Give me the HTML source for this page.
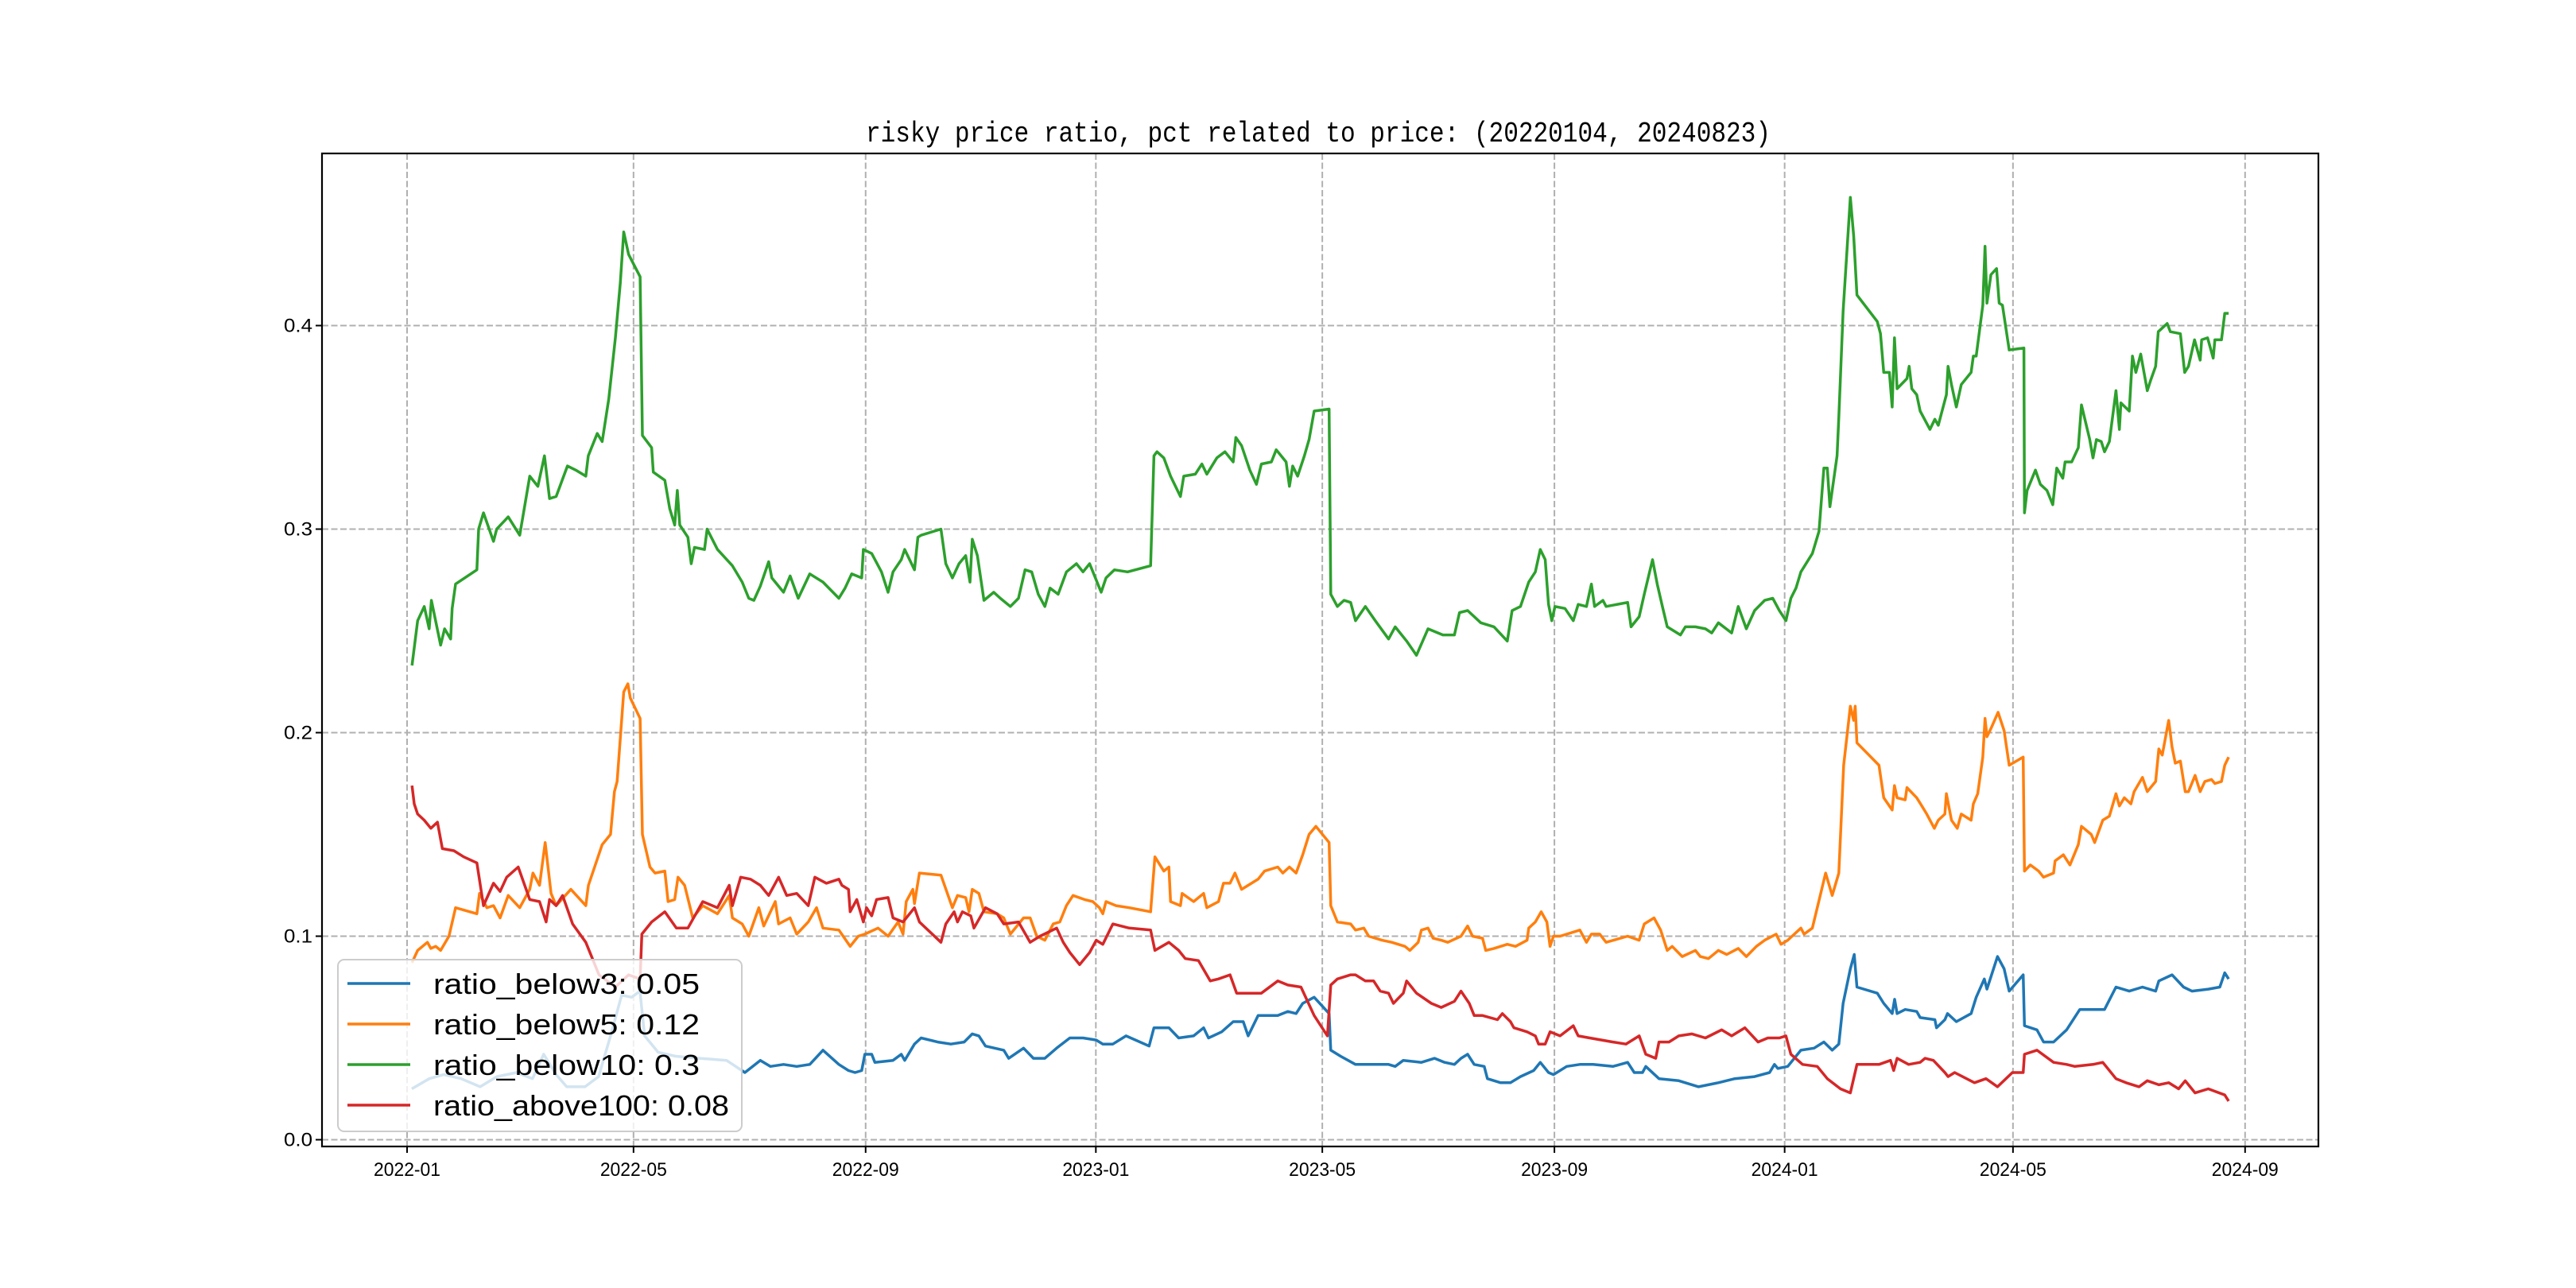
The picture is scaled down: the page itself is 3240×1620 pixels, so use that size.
<!DOCTYPE html>
<html><head><meta charset="utf-8"><style>html,body{margin:0;padding:0;background:#fff}svg{display:block}</style></head>
<body>
<svg id="chart" width="3240" height="1620" viewBox="0 0 3240 1620" xmlns="http://www.w3.org/2000/svg" font-family="'Liberation Sans','Noto Sans CJK SC',sans-serif">
<rect width="3240" height="1620" fill="#fff"/>
<g id="grid"></g>
<g id="series"></g>
<rect x="405" y="193" width="2511" height="1249" fill="none" stroke="#000" stroke-width="2.2"/>
<g id="ticks"></g>
<text x="1658" y="178" text-anchor="middle" font-size="36" textLength="1138" lengthAdjust="spacingAndGlyphs" font-family="'Liberation Mono',monospace">risky price ratio, pct related to price: (20220104, 20240823)</text>
<g id="legend"></g>
</svg>
<script>
const yTicks=[0.0,0.1,0.2,0.3,0.4];
const yTickLabels=["0.0","0.1","0.2","0.3","0.4"];
const xTickDays=[0,120,243,365,485,608,730,851,974];
const xTickLabels=["2022-01","2022-05","2022-09","2023-01","2023-05","2023-09","2024-01","2024-05","2024-09"];
const seriesNames=["ratio_below3: 0.05","ratio_below5: 0.12","ratio_below10: 0.3","ratio_above100: 0.08"];
const seriesColors=["#1f77b4","#ff7f0e","#2ca02c","#d62728"];
// days since 2022-01-01
const below3Days=[2.5,11.8,19.4,28.6,38.7,47.6,58,66.5,72.4,79,84.6,94.3,101.5,107.8,113.7,119,123.4,125.9,133,142.3,155,169.3,179,187.2,192.5,199.5,206.5,213.4,220.4,228.8,233.9,237.4,240.9,242.6,246.2,247.9,257.5,261.9,263.7,268.9,272.4,281.2,288.2,295.2,299.5,303,306.5,316.2,318.8,326.7,331.9,338,344.2,351.2,358.2,365.2,368.7,374,381,393.2,395.8,403.7,408.9,416.8,422.1,424.7,431.7,437.8,443.1,445.7,451,461.4,466.7,471.1,474.6,480.7,488.6,489.5,494.7,502.6,513.1,520.1,523.6,527.9,537.5,544.5,549.8,555,558.5,562,565.5,570.8,572.5,579.5,584.7,590,597,600.5,604.9,607.5,614.5,621.5,628.5,639,646.8,650.3,654.7,656.4,663.4,673.9,684.4,694.9,703.6,714.1,722,724.6,726.4,731.6,738.6,745.6,750.8,755.2,758.7,761,764.8,766.9,768.3,779.1,782.5,787,788.3,789.6,793.9,800,801.8,809.6,810.5,814.9,816.3,821,828.8,831.5,835.8,837.2,842.8,846.3,849,856.4,857.1,863.7,867.2,872.5,879.4,886.4,893.4,899.5,905.6,912.6,919.6,926.6,928.3,935.3,941.4,945.8,954.5,960.6,963.2,965.3];
const below3Vals=[0.025,0.030,0.032,0.030,0.026,0.031,0.033,0.030,0.042,0.032,0.026,0.026,0.031,0.051,0.071,0.070,0.073,0.051,0.043,0.041,0.040,0.039,0.033,0.039,0.036,0.037,0.036,0.037,0.044,0.037,0.034,0.033,0.034,0.042,0.042,0.038,0.039,0.042,0.039,0.047,0.050,0.048,0.047,0.048,0.052,0.051,0.046,0.044,0.040,0.045,0.040,0.040,0.045,0.050,0.050,0.049,0.047,0.047,0.051,0.046,0.055,0.055,0.050,0.051,0.055,0.050,0.053,0.058,0.058,0.051,0.061,0.061,0.063,0.062,0.067,0.070,0.062,0.044,0.041,0.037,0.037,0.037,0.036,0.039,0.038,0.040,0.038,0.037,0.040,0.042,0.037,0.036,0.030,0.028,0.028,0.031,0.034,0.038,0.033,0.032,0.036,0.037,0.037,0.036,0.038,0.033,0.033,0.036,0.030,0.029,0.026,0.028,0.030,0.031,0.033,0.037,0.035,0.036,0.044,0.045,0.048,0.044,0.047,0.067,0.084,0.091,0.075,0.072,0.067,0.062,0.069,0.062,0.064,0.063,0.060,0.059,0.055,0.059,0.062,0.058,0.062,0.070,0.079,0.074,0.090,0.084,0.073,0.081,0.056,0.054,0.048,0.048,0.054,0.064,0.064,0.064,0.075,0.073,0.075,0.073,0.078,0.081,0.075,0.073,0.074,0.075,0.082,0.079];
const below5Days=[2.6,5.6,10.8,12.6,15.2,17.8,22.2,25.7,37,38.4,42.3,45.8,49.3,53.6,59.7,65,66.7,70.2,73.2,76.3,79,86.8,94.7,96.1,103.4,107.8,109.9,111.3,114.8,117,118.3,123.5,124.7,128.7,131.4,136.6,138.3,141.8,143.6,147.1,151.4,156.7,164.5,170.7,172.4,177.6,181.1,186.4,189,195.1,196.9,203,206.5,212.6,217,220.4,228.8,234.8,239.1,242.6,249.6,254.9,260.2,262.8,264.5,268,268.9,271.5,282.9,289,291.7,296,297.8,299.5,303,305.7,312.7,316.2,319.7,326.7,330.2,333.7,338,342.4,345.9,349.4,352.9,359,363.4,366.9,368.7,370.4,375.7,382.7,394,396.3,401,403.7,404.6,409.8,410.7,416.8,422.1,423.8,430,432.6,436.1,438.7,442.2,445.7,451,454.4,461.4,464.1,467.6,471.1,474.6,478,481.6,488.6,489.5,493,500,502.6,507,509.6,516.6,521.8,528.8,531.4,535.8,537.5,541,543.7,548,551.5,558.5,562,564.6,569.9,571.6,576,583,587.4,593.5,594.4,597.9,601,604,605.7,607.5,611,621.5,625,627.6,632,635.4,646.8,652.9,655.6,660.8,664.3,667.8,670.4,675.7,682.7,685.3,689.6,694.9,699.3,705.4,709.7,715,719.4,725.5,728.1,731.6,738.6,740.3,744.7,747.3,751.7,755.2,758.7,761.3,764.8,766.6,767.4,768.3,780,782.5,787,788.2,789.6,793.9,794.8,800,802.7,805.3,809.3,811.4,814.9,815.7,818.4,821.5,823.6,828.8,830,832.3,835,836.2,837.2,839.3,843.1,846.3,849,856.4,857.1,860.2,864.6,867.2,872.5,873.3,877.7,881.2,885.6,887.3,892.5,894.3,898.6,902.1,905.6,907.4,910,913.5,915.2,919.6,922.2,926.6,928.3,930.1,933.5,935.3,937,939.7,942.3,944,947.5,950.2,952.7,956.2,958,961.5,963.2,965.3];
const below5Vals=[0.087,0.093,0.097,0.094,0.095,0.093,0.100,0.114,0.111,0.121,0.114,0.115,0.109,0.120,0.114,0.123,0.131,0.125,0.146,0.121,0.115,0.123,0.115,0.125,0.145,0.150,0.171,0.176,0.220,0.224,0.217,0.207,0.150,0.134,0.131,0.132,0.117,0.118,0.129,0.125,0.109,0.115,0.111,0.120,0.109,0.106,0.100,0.114,0.105,0.117,0.106,0.109,0.101,0.107,0.114,0.104,0.103,0.095,0.100,0.101,0.104,0.100,0.107,0.101,0.117,0.123,0.116,0.131,0.130,0.114,0.120,0.119,0.112,0.123,0.121,0.112,0.111,0.109,0.101,0.109,0.109,0.100,0.098,0.106,0.107,0.115,0.120,0.118,0.117,0.114,0.111,0.117,0.115,0.114,0.112,0.139,0.132,0.134,0.117,0.115,0.121,0.117,0.121,0.114,0.117,0.126,0.126,0.131,0.123,0.125,0.128,0.132,0.134,0.131,0.134,0.131,0.140,0.150,0.154,0.146,0.115,0.107,0.106,0.103,0.104,0.100,0.098,0.097,0.095,0.093,0.097,0.103,0.104,0.099,0.098,0.097,0.100,0.105,0.100,0.099,0.093,0.094,0.096,0.095,0.098,0.104,0.107,0.112,0.107,0.095,0.100,0.100,0.103,0.097,0.101,0.101,0.097,0.100,0.098,0.106,0.109,0.103,0.093,0.095,0.090,0.093,0.090,0.089,0.093,0.091,0.094,0.090,0.095,0.098,0.101,0.096,0.098,0.104,0.101,0.104,0.114,0.131,0.120,0.131,0.184,0.213,0.206,0.213,0.195,0.184,0.168,0.162,0.174,0.168,0.167,0.173,0.168,0.164,0.160,0.153,0.157,0.160,0.170,0.157,0.153,0.160,0.157,0.165,0.170,0.188,0.207,0.198,0.202,0.210,0.201,0.184,0.188,0.132,0.135,0.132,0.129,0.131,0.137,0.140,0.135,0.145,0.154,0.150,0.146,0.157,0.159,0.170,0.164,0.168,0.165,0.171,0.178,0.171,0.176,0.192,0.189,0.206,0.193,0.185,0.186,0.171,0.171,0.179,0.171,0.176,0.177,0.175,0.176,0.184,0.188];
const below10Days=[2.6,5.6,9.1,11.7,12.9,17.8,19.9,23.1,23.9,25.7,37,37.9,40.5,45.8,47.5,53.6,59.7,65,69.3,72.8,75.5,79,85,89.4,94.7,96,100.8,103.4,106.9,110.4,113,114.8,117.4,123.5,124.7,129.6,130.5,136.6,139.2,141.8,143.2,144.5,148.8,150.6,152.3,157.6,159,164.5,172.4,177.6,181.1,183.8,187.2,191.6,193.3,199.5,203,207.3,213.4,220.4,228.8,232.1,235.6,240.9,241.8,246.2,251.4,254.9,257.5,261.9,263.7,268.9,270.7,272.4,282.9,285.5,289,292.5,296,298.3,299.5,302.2,305.7,310.9,314.4,319.7,324,327.5,331,334.5,338,340.7,345,349.4,354.7,358.2,361.7,367.8,370.4,374.8,381.8,394,395.8,397.4,401,404.6,409.8,411.6,417.7,421.2,423.8,429.1,433.4,437.8,439.2,442.2,446.6,450.1,452.7,458,460.6,465.8,467.6,469.3,471.9,475.5,478,480.7,488.6,489.5,493,496.5,500,502.6,507.8,513.1,520.1,523.6,529.7,534.9,541,548.9,555,557.7,562,569,576,583,585.6,590,594.4,597.9,600.5,603.1,604.9,606.6,608.3,613.6,618,620.6,625,627.6,629.3,633.7,635.4,646.8,648.6,652.9,655.6,660,662.5,665.2,667.8,674.8,677.4,682.7,688,691.4,694.9,701.9,705.4,709.7,714.1,719.4,723.7,727.2,730.7,733.3,736,738.6,744.7,748.2,750.8,752.6,754,757.8,758.7,761,764.8,766.6,768.3,779.1,780.8,782.5,785.5,787,788.2,789.6,794.8,796,797.4,800,801.8,807,809.6,811.4,815.7,816.6,818.4,821,823.6,828.8,830,831.5,835,836.2,837.2,839.3,842.3,843.7,845.4,849,856.8,857.1,858.5,862.9,865.5,869,872.1,874.2,877.4,878.6,882.1,885.6,887.3,891.7,893.4,895.2,897.8,899.5,902.1,905.6,907.4,908.2,912.6,914.3,916.1,918.7,922.2,923.9,926.6,928,932.7,934.4,939.7,942,944,947.2,950.2,951,954.1,957.1,958,961.5,963.2,965.3];
const below10Vals=[0.233,0.255,0.262,0.251,0.265,0.243,0.251,0.246,0.261,0.273,0.280,0.300,0.308,0.294,0.300,0.306,0.297,0.326,0.321,0.336,0.315,0.316,0.331,0.329,0.326,0.336,0.347,0.343,0.364,0.394,0.421,0.446,0.435,0.424,0.346,0.340,0.328,0.324,0.310,0.302,0.319,0.302,0.296,0.283,0.291,0.290,0.300,0.290,0.282,0.274,0.266,0.265,0.272,0.284,0.276,0.269,0.277,0.266,0.278,0.274,0.266,0.271,0.278,0.276,0.290,0.288,0.279,0.269,0.279,0.285,0.290,0.280,0.296,0.297,0.300,0.283,0.276,0.283,0.287,0.274,0.295,0.287,0.265,0.269,0.266,0.262,0.266,0.280,0.279,0.268,0.262,0.271,0.268,0.279,0.283,0.279,0.283,0.269,0.276,0.280,0.279,0.282,0.336,0.338,0.335,0.326,0.316,0.326,0.327,0.332,0.327,0.335,0.338,0.333,0.345,0.341,0.329,0.322,0.332,0.333,0.339,0.333,0.321,0.331,0.326,0.336,0.344,0.358,0.359,0.268,0.262,0.265,0.264,0.255,0.262,0.255,0.246,0.252,0.245,0.238,0.251,0.248,0.248,0.259,0.260,0.254,0.252,0.245,0.260,0.262,0.274,0.279,0.290,0.285,0.263,0.255,0.262,0.261,0.255,0.263,0.262,0.273,0.262,0.265,0.262,0.264,0.252,0.257,0.268,0.285,0.273,0.262,0.252,0.248,0.252,0.252,0.251,0.249,0.254,0.249,0.262,0.251,0.260,0.265,0.266,0.260,0.255,0.266,0.271,0.279,0.288,0.299,0.330,0.330,0.311,0.336,0.355,0.407,0.463,0.444,0.415,0.402,0.396,0.377,0.377,0.360,0.394,0.369,0.374,0.380,0.369,0.366,0.358,0.349,0.354,0.351,0.366,0.380,0.371,0.360,0.371,0.377,0.385,0.385,0.410,0.439,0.411,0.425,0.428,0.411,0.410,0.388,0.389,0.308,0.319,0.329,0.322,0.319,0.312,0.330,0.325,0.333,0.333,0.340,0.361,0.344,0.335,0.344,0.343,0.338,0.343,0.368,0.349,0.362,0.358,0.385,0.377,0.386,0.368,0.373,0.380,0.397,0.401,0.397,0.396,0.377,0.380,0.393,0.383,0.393,0.394,0.384,0.393,0.393,0.406,0.406];
const above100Days=[2.6,3.8,5.6,9.1,12.6,16.1,18.7,24.8,30,37,40.5,45.8,49.3,52.8,58.9,65,70.2,73.7,75.5,79,82.4,87.7,94.7,101.7,110.4,117.4,123.5,124.4,129.6,136.6,142.7,148.8,156.7,164.5,170.7,172.4,176.8,182,187.2,191.6,196.9,201.2,206.5,212.6,216.1,222.2,228.8,230.4,233.9,234.8,238.3,241.8,243.5,246.2,248.8,254.9,257.5,262.8,268.9,271.5,282.9,285.5,289.9,291.7,294.3,298.7,300.4,306.5,312.7,316.2,324,330.2,335.4,344.2,347.7,351.2,356.4,361.7,365.2,368.7,374,382.7,394,396.3,403.7,408.9,412.4,419.4,425.6,429.9,436.1,439.6,445.7,452.7,461.4,466.7,473.7,480.7,487.7,489.5,493,500,502.6,507.8,512.2,515.7,520.1,522.7,527.9,529.7,534.9,542.8,548,555,558.5,562.9,565.5,569.9,577.8,580.4,584.7,586.5,593.5,597.9,599.6,603.1,605.7,611,618,620.6,626.7,639,645.9,652.9,656.4,661.7,663.4,668.7,673.9,680.9,688,696.6,701.9,708.9,715.9,721.1,727.2,730.7,733.3,739.5,747.3,752.6,759.6,764.8,768.3,780,786.1,787.8,789.6,795.7,801.8,804.4,808.8,814.9,816.6,820.1,830.6,836.7,842.8,850.7,856.4,857.1,863.7,872.5,879.4,883.8,893.4,898.6,905.6,910.9,917.8,922.2,928.3,933.5,938.8,942.3,947.5,954.5,963.2,965.3];
const above100Vals=[0.174,0.165,0.160,0.157,0.153,0.156,0.143,0.142,0.139,0.136,0.115,0.126,0.122,0.129,0.134,0.118,0.117,0.107,0.118,0.115,0.120,0.106,0.097,0.081,0.075,0.081,0.079,0.101,0.107,0.112,0.104,0.104,0.117,0.114,0.125,0.115,0.129,0.128,0.125,0.120,0.129,0.120,0.121,0.115,0.129,0.126,0.128,0.125,0.123,0.112,0.118,0.107,0.114,0.110,0.118,0.119,0.109,0.107,0.114,0.107,0.097,0.106,0.112,0.107,0.112,0.110,0.104,0.114,0.111,0.106,0.107,0.097,0.100,0.104,0.097,0.092,0.086,0.092,0.098,0.096,0.106,0.104,0.103,0.093,0.097,0.093,0.089,0.088,0.078,0.079,0.081,0.072,0.072,0.072,0.078,0.076,0.075,0.061,0.051,0.076,0.079,0.081,0.081,0.078,0.078,0.073,0.072,0.067,0.072,0.078,0.072,0.067,0.065,0.068,0.073,0.067,0.061,0.061,0.059,0.062,0.058,0.055,0.053,0.051,0.047,0.047,0.053,0.051,0.056,0.051,0.050,0.048,0.047,0.051,0.042,0.040,0.048,0.048,0.051,0.052,0.050,0.054,0.051,0.055,0.048,0.050,0.050,0.051,0.042,0.037,0.036,0.030,0.025,0.023,0.037,0.037,0.039,0.034,0.040,0.037,0.038,0.040,0.039,0.033,0.031,0.033,0.028,0.030,0.026,0.033,0.033,0.042,0.044,0.038,0.037,0.036,0.037,0.038,0.030,0.028,0.026,0.029,0.027,0.028,0.025,0.029,0.023,0.025,0.022,0.019];

const NS="http://www.w3.org/2000/svg";
const PL=405,PR=2916,PT=193,PB=1442;
function xScale(d){return 512+d*2.3735;}
function yScale(v){return 1433.5-v*2560;}
function mk(tag,attrs,parent){const e=document.createElementNS(NS,tag);for(const k in attrs)e.setAttribute(k,attrs[k]);parent.appendChild(e);return e;}
const grid=document.getElementById('grid'),ticks=document.getElementById('ticks'),ser=document.getElementById('series'),leg=document.getElementById('legend');
yTicks.forEach((v,i)=>{const y=yScale(v);
 const g=mk('line',{x1:PL,x2:PR,y1:y,y2:y,stroke:'#b0b0b0','stroke-width':2,'stroke-dasharray':'8,3.5'},grid);
 
 
 const t=mk('line',{x1:PL-8,x2:PL,y1:y,y2:y,stroke:'#000','stroke-width':2},ticks);
 
 
 const l=mk('text',{x:PL-12,y:y+8,'text-anchor':'end','font-size':24,textLength:36,lengthAdjust:'spacingAndGlyphs'},ticks);
 l.textContent=yTickLabels[i];
 
 
});
xTickDays.forEach((d,i)=>{const x=xScale(d);
 const g=mk('line',{x1:x,x2:x,y1:PT,y2:PB,stroke:'#b0b0b0','stroke-width':2,'stroke-dasharray':'8,3.5'},grid);
 
 
 const t=mk('line',{x1:x,x2:x,y1:PB,y2:PB+8,stroke:'#000','stroke-width':2},ticks);
 
 
 const l=mk('text',{x:x,y:PB+37,'text-anchor':'middle','font-size':24,textLength:84,lengthAdjust:'spacingAndGlyphs'},ticks);
 l.textContent=xTickLabels[i];
 
 
});
const allDays=[below3Days,below5Days,below10Days,above100Days];
const allVals=[below3Vals,below5Vals,below10Vals,above100Vals];
const lineNames=['line-ratio-below3','line-ratio-below5','line-ratio-below10','line-ratio-above100'];
allDays.forEach((ds,s)=>{const vs=allVals[s];
 const pts=ds.map((d,i)=>xScale(d).toFixed(1)+','+yScale(vs[i]).toFixed(1)).join(' ');
 const p=mk('polyline',{points:pts,fill:'none',stroke:seriesColors[s],'stroke-width':3.5,'stroke-linejoin':'round'},ser);
 
 
});
const box=mk('rect',{x:425,y:1207,width:508,height:216,rx:8,fill:'#fff','fill-opacity':0.8,stroke:'#cccccc','stroke-width':2},leg);


const legLens=[335,335,335,372];
seriesNames.forEach((n,i)=>{const y=1237+i*51;
 const g=mk('g',{},leg);
 
 
 mk('line',{x1:437,x2:516,y1:y,y2:y,stroke:seriesColors[i],'stroke-width':3.5},g);
 const t=mk('text',{x:545,y:y+13,'font-size':36,textLength:legLens[i],lengthAdjust:'spacingAndGlyphs'},g);
 t.textContent=n;
 
 
});
</script>
</body></html>
